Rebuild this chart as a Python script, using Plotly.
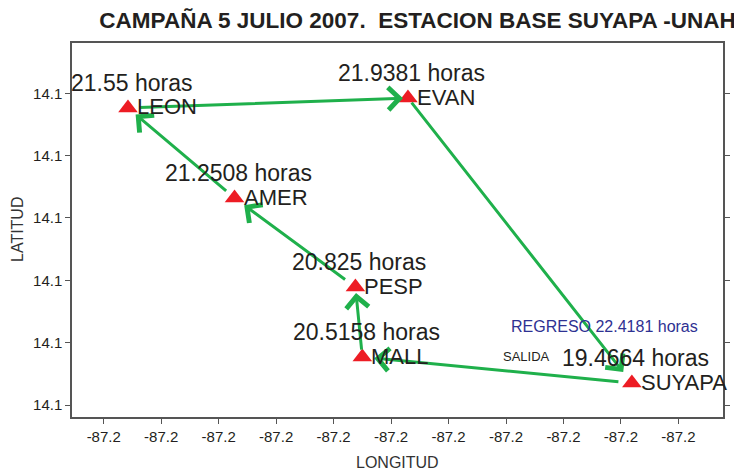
import plotly.graph_objects as go

# ---- data ----
stations = ["LEON", "EVAN", "AMER", "PESP", "MALL", "SUYAPA"]
lon = [-87.22289, -87.19853, -87.21362, -87.20310, -87.20250, -87.17905]
lat = [14.09882, 14.09962, 14.09160, 14.08446, 14.07885, 14.07676]
hours = ["21.55", "21.9381", "21.2508", "20.825", "20.5158", "19.4664"]
route = ["SUYAPA", "MALL", "PESP", "AMER", "LEON", "EVAN", "SUYAPA"]
return_hours = "22.4181"

x_tickvals = [-87.225, -87.220, -87.215, -87.210, -87.205, -87.200,
              -87.195, -87.190, -87.185, -87.180, -87.175]
x_ticktext = ["-87.2"] * len(x_tickvals)
y_tickvals = [14.075, 14.080, 14.085, 14.090, 14.095, 14.100]
y_ticktext = ["14.1"] * len(y_tickvals)

title_text = "CAMPAÑA 5 JULIO 2007.  ESTACION BASE SUYAPA -UNAH"

# ---- styles ----
FONT = "Liberation Sans, Arial, sans-serif"
TXT = "#231f20"
GREEN = "#1fb04b"
RED = "#ed1c24"
AXC = "#555555"
W, H = 734, 464  # page body has an 8px margin

pos = {s: (lon[i], lat[i]) for i, s in enumerate(stations)}

fig = go.Figure()
fig.add_trace(go.Scatter(
    x=lon, y=lat, mode="markers",
    marker=dict(symbol="triangle-up", size=17, color=RED, line=dict(width=0)),
    cliponaxis=False, hoverinfo="text", text=stations, showlegend=False,
))

annotations = []
# arrows along the route
head_standoff = {"MALL": 12, "PESP": 6, "AMER": 12, "LEON": 10, "EVAN": 5, "SUYAPA": 14}
tail_standoff = {"SUYAPA": 12, "MALL": 6, "PESP": 11, "AMER": 9, "LEON": 10, "EVAN": 4}
for a, b in zip(route[:-1], route[1:]):
    annotations.append(dict(
        x=pos[b][0], y=pos[b][1], ax=pos[a][0], ay=pos[a][1],
        xref="x", yref="y", axref="x", ayref="y",
        text="", showarrow=True, arrowhead=4, arrowsize=1.45,
        arrowwidth=3, arrowcolor=GREEN,
        standoff=head_standoff[b], startstandoff=tail_standoff[a],
    ))

# station names and times
for s, h in zip(stations, hours):
    annotations.append(dict(
        x=pos[s][0], y=pos[s][1], xref="x", yref="y",
        text=s, showarrow=False, xanchor="left", yanchor="middle",
        xshift=7, yshift=1, font=dict(family=FONT, size=22, color=TXT),
    ))
    annotations.append(dict(
        x=pos[s][0], y=pos[s][1], xref="x", yref="y",
        text=f"{h} horas", showarrow=False, xanchor="center", yanchor="middle",
        xshift=4, yshift=25, font=dict(family=FONT, size=23, color=TXT),
    ))

sx, sy = pos["SUYAPA"]
annotations.append(dict(
    x=sx, y=sy, xref="x", yref="y", text=f"REGRESO {return_hours} horas",
    showarrow=False, xanchor="center", yanchor="middle", xshift=-27, yshift=57,
    font=dict(family=FONT, size=16, color="#2e3192"),
))
annotations.append(dict(
    x=sx, y=sy, xref="x", yref="y", text="SALIDA",
    showarrow=False, xanchor="center", yanchor="middle", xshift=-105, yshift=27,
    font=dict(family=FONT, size=13, color=TXT),
))

# axis titles
annotations.append(dict(
    x=0.5, y=0, xref="paper", yref="paper", text="LONGITUD", showarrow=False,
    xanchor="center", yanchor="middle", yshift=-45,
    font=dict(family=FONT, size=16, color="#333333"),
))
annotations.append(dict(
    x=0, y=0.5, xref="paper", yref="paper", text="LATITUD", showarrow=False,
    xanchor="center", yanchor="middle", xshift=-55, textangle=-90,
    font=dict(family=FONT, size=16, color="#333333"),
))

fig.update_layout(
    width=W, height=H,
    margin=dict(l=64, r=13, t=35, b=55),
    paper_bgcolor="white", plot_bgcolor="white",
    title=dict(text=f"<b>{title_text}</b>", xref="container", yref="container",
               x=409.5 / W, y=1 - 12 / H, xanchor="center", yanchor="middle",
               font=dict(family=FONT, size=22.5, color=TXT)),
    annotations=annotations,
    xaxis=dict(range=[-87.22776, -87.17112], tickvals=x_tickvals, ticktext=x_ticktext,
               showgrid=False, zeroline=False, showline=True, mirror=True,
               linecolor=AXC, linewidth=1.5, ticks="outside", ticklen=5,
               tickcolor=AXC, tickwidth=1.2,
               tickfont=dict(family=FONT, size=15, color=TXT)),
    yaxis=dict(range=[14.07404, 14.10403], tickvals=y_tickvals, ticktext=y_ticktext,
               showgrid=False, zeroline=False, showline=True, mirror="ticks",
               linecolor=AXC, linewidth=1.5, ticks="outside", ticklen=5,
               tickcolor=AXC, tickwidth=1.2,
               tickfont=dict(family=FONT, size=15, color=TXT)),
)

fig.write_html("out.html")
